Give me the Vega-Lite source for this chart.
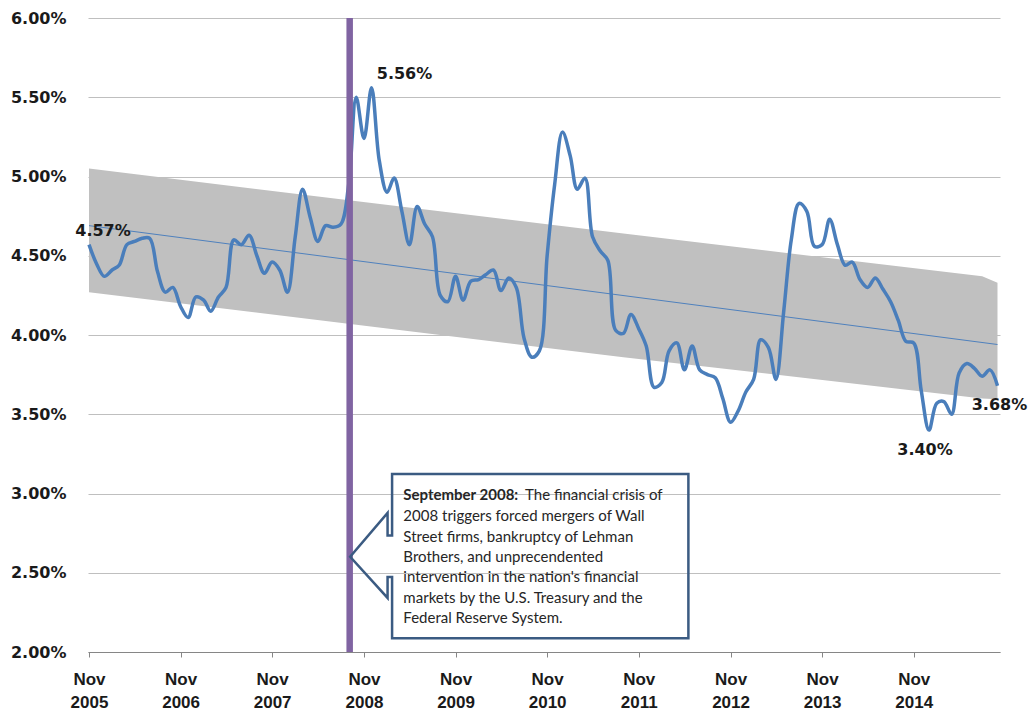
{
  "$schema": "https://vega.github.io/schema/vega-lite/v6.json",
  "width": 912,
  "height": 634,
  "autosize": {"type": "none"},
  "padding": {"left": 88, "top": 18, "right": 29, "bottom": 67},
  "background": "white",
  "config": {"view": {"stroke": null}},
  "datasets": {
    "series": [
      {"date": "2005-11-01", "value": 4.57, "label": "4.57%"},
      {"date": "2005-12-01", "value": 4.45},
      {"date": "2006-01-01", "value": 4.37},
      {"date": "2006-02-01", "value": 4.41},
      {"date": "2006-03-01", "value": 4.44},
      {"date": "2006-04-01", "value": 4.57},
      {"date": "2006-05-01", "value": 4.59},
      {"date": "2006-06-01", "value": 4.61},
      {"date": "2006-07-01", "value": 4.61},
      {"date": "2006-08-01", "value": 4.40},
      {"date": "2006-09-01", "value": 4.27},
      {"date": "2006-10-01", "value": 4.30},
      {"date": "2006-11-01", "value": 4.18},
      {"date": "2006-12-01", "value": 4.11},
      {"date": "2007-01-01", "value": 4.24},
      {"date": "2007-02-01", "value": 4.22},
      {"date": "2007-03-01", "value": 4.15},
      {"date": "2007-04-01", "value": 4.24},
      {"date": "2007-05-01", "value": 4.30},
      {"date": "2007-06-01", "value": 4.60},
      {"date": "2007-07-01", "value": 4.57},
      {"date": "2007-08-01", "value": 4.63},
      {"date": "2007-09-01", "value": 4.50},
      {"date": "2007-10-01", "value": 4.39},
      {"date": "2007-11-01", "value": 4.46},
      {"date": "2007-12-01", "value": 4.41},
      {"date": "2008-01-01", "value": 4.27},
      {"date": "2008-02-01", "value": 4.62},
      {"date": "2008-03-01", "value": 4.92},
      {"date": "2008-04-01", "value": 4.74},
      {"date": "2008-05-01", "value": 4.59},
      {"date": "2008-06-01", "value": 4.69},
      {"date": "2008-07-01", "value": 4.68},
      {"date": "2008-08-01", "value": 4.70},
      {"date": "2008-09-01", "value": 4.95},
      {"date": "2008-10-01", "value": 5.50},
      {"date": "2008-11-01", "value": 5.24},
      {"date": "2008-12-01", "value": 5.56, "label": "5.56%"},
      {"date": "2009-01-01", "value": 5.10},
      {"date": "2009-02-01", "value": 4.90},
      {"date": "2009-03-01", "value": 4.99},
      {"date": "2009-04-01", "value": 4.78},
      {"date": "2009-05-01", "value": 4.57},
      {"date": "2009-06-01", "value": 4.81},
      {"date": "2009-07-01", "value": 4.70},
      {"date": "2009-08-01", "value": 4.62},
      {"date": "2009-09-01", "value": 4.25},
      {"date": "2009-10-01", "value": 4.21},
      {"date": "2009-11-01", "value": 4.37},
      {"date": "2009-12-01", "value": 4.22},
      {"date": "2010-01-01", "value": 4.34},
      {"date": "2010-02-01", "value": 4.35},
      {"date": "2010-03-01", "value": 4.38},
      {"date": "2010-04-01", "value": 4.41},
      {"date": "2010-05-01", "value": 4.28},
      {"date": "2010-06-01", "value": 4.36},
      {"date": "2010-07-01", "value": 4.30},
      {"date": "2010-08-01", "value": 3.98},
      {"date": "2010-09-01", "value": 3.86},
      {"date": "2010-10-01", "value": 3.90},
      {"date": "2010-11-01", "value": 4.50},
      {"date": "2010-12-01", "value": 4.95},
      {"date": "2011-01-01", "value": 5.28},
      {"date": "2011-02-01", "value": 5.13},
      {"date": "2011-03-01", "value": 4.92},
      {"date": "2011-04-01", "value": 4.99},
      {"date": "2011-05-01", "value": 4.62},
      {"date": "2011-06-01", "value": 4.53},
      {"date": "2011-07-01", "value": 4.47},
      {"date": "2011-08-01", "value": 4.03},
      {"date": "2011-09-01", "value": 4.01},
      {"date": "2011-10-01", "value": 4.13},
      {"date": "2011-11-01", "value": 4.04},
      {"date": "2011-12-01", "value": 3.93},
      {"date": "2012-01-01", "value": 3.67},
      {"date": "2012-02-01", "value": 3.70},
      {"date": "2012-03-01", "value": 3.90},
      {"date": "2012-04-01", "value": 3.95},
      {"date": "2012-05-01", "value": 3.78},
      {"date": "2012-06-01", "value": 3.93},
      {"date": "2012-07-01", "value": 3.78},
      {"date": "2012-08-01", "value": 3.75},
      {"date": "2012-09-01", "value": 3.73},
      {"date": "2012-10-01", "value": 3.60},
      {"date": "2012-11-01", "value": 3.45},
      {"date": "2012-12-01", "value": 3.52},
      {"date": "2013-01-01", "value": 3.64},
      {"date": "2013-02-01", "value": 3.72},
      {"date": "2013-03-01", "value": 3.97},
      {"date": "2013-04-01", "value": 3.92},
      {"date": "2013-05-01", "value": 3.72},
      {"date": "2013-06-01", "value": 4.15},
      {"date": "2013-07-01", "value": 4.60},
      {"date": "2013-08-01", "value": 4.83},
      {"date": "2013-09-01", "value": 4.78},
      {"date": "2013-10-01", "value": 4.56},
      {"date": "2013-11-01", "value": 4.57},
      {"date": "2013-12-01", "value": 4.73},
      {"date": "2014-01-01", "value": 4.57},
      {"date": "2014-02-01", "value": 4.44},
      {"date": "2014-03-01", "value": 4.46},
      {"date": "2014-04-01", "value": 4.35},
      {"date": "2014-05-01", "value": 4.30},
      {"date": "2014-06-01", "value": 4.36},
      {"date": "2014-07-01", "value": 4.29},
      {"date": "2014-08-01", "value": 4.21},
      {"date": "2014-09-01", "value": 4.09},
      {"date": "2014-10-01", "value": 3.96},
      {"date": "2014-11-01", "value": 3.95},
      {"date": "2014-12-01", "value": 3.65},
      {"date": "2015-01-01", "value": 3.40, "label": "3.40%"},
      {"date": "2015-02-01", "value": 3.57},
      {"date": "2015-03-01", "value": 3.58},
      {"date": "2015-04-01", "value": 3.50},
      {"date": "2015-05-01", "value": 3.76},
      {"date": "2015-06-01", "value": 3.82},
      {"date": "2015-07-01", "value": 3.79},
      {"date": "2015-08-01", "value": 3.74},
      {"date": "2015-09-01", "value": 3.78},
      {"date": "2015-10-01", "value": 3.68, "label": "3.68%"}
    ],
    "band": [
      {"date": "2005-11-01", "value": 5.05, "lo": 4.27},
      {"date": "2011-09-01", "value": 4.64, "lo": 3.86},
      {"date": "2015-08-01", "value": 4.37, "lo": 3.60},
      {"date": "2015-10-01", "value": 4.33, "lo": 3.595}
    ],
    "trend": [
      {"date": "2005-11-01", "value": 4.69},
      {"date": "2015-10-01", "value": 3.94}
    ],
    "event": [
      {"date": "2008-09-05", "value": 6, "lo": 2}
    ],
    "callout": [
      {"i": 1, "date": "2009-02-21", "value": 3.123},
      {"i": 2, "date": "2012-05-17", "value": 3.123},
      {"i": 3, "date": "2012-05-17", "value": 2.086},
      {"i": 4, "date": "2009-02-21", "value": 2.086},
      {"i": 5, "date": "2009-02-21", "value": 2.473},
      {"i": 6, "date": "2009-02-03", "value": 2.473},
      {"i": 7, "date": "2009-02-03", "value": 2.341},
      {"i": 8, "date": "2008-09-07", "value": 2.601},
      {"i": 9, "date": "2009-02-03", "value": 2.877},
      {"i": 10, "date": "2009-02-03", "value": 2.735},
      {"i": 11, "date": "2009-02-21", "value": 2.735}
    ],
    "noteHead": [
      {"date": "2009-04-07", "value": 2.991, "text": "September 2008:"}
    ],
    "noteBody": [
      {"date": "2010-08-05", "value": 2.991, "text": "The financial crisis of"},
      {"date": "2009-04-07", "value": 2.858, "text": "2008  triggers forced mergers of Wall"},
      {"date": "2009-04-07", "value": 2.727, "text": "Street firms, bankruptcy of Lehman"},
      {"date": "2009-04-07", "value": 2.601, "text": "Brothers, and unprecendented"},
      {"date": "2009-04-07", "value": 2.471, "text": "intervention in the nation's financial"},
      {"date": "2009-04-07", "value": 2.343, "text": "markets by the U.S. Treasury and the"},
      {"date": "2009-04-07", "value": 2.216, "text": "Federal Reserve System."}
    ]
  },
  "encoding": {
    "x": {
      "field": "date",
      "type": "temporal",
      "scale": {
        "type": "utc",
        "nice": false,
        "domain": [
          {"year": 2005, "month": 10, "date": 28, "utc": true},
          {"year": 2015, "month": 10, "date": 11, "utc": true}
        ]
      },
      "axis": {
        "title": null,
        "grid": false,
        "values": [
          {"year": 2005, "month": 11, "date": 1, "utc": true},
          {"year": 2006, "month": 11, "date": 1, "utc": true},
          {"year": 2007, "month": 11, "date": 1, "utc": true},
          {"year": 2008, "month": 11, "date": 1, "utc": true},
          {"year": 2009, "month": 11, "date": 1, "utc": true},
          {"year": 2010, "month": 11, "date": 1, "utc": true},
          {"year": 2011, "month": 11, "date": 1, "utc": true},
          {"year": 2012, "month": 11, "date": 1, "utc": true},
          {"year": 2013, "month": 11, "date": 1, "utc": true},
          {"year": 2014, "month": 11, "date": 1, "utc": true}
        ],
        "labelExpr": "['Nov', utcFormat(datum.value, '%Y')]",
        "domainColor": "#868686",
        "tickColor": "#868686",
        "tickSize": 5,
        "labelFont": "Liberation Sans",
        "labelFontWeight": "bold",
        "labelFontSize": 17,
        "labelColor": "#1a1a1a",
        "labelPadding": 14,
        "labelBaseline": "top",
        "labelLineHeight": 23,
        "labelAlign": "center",
        "labelOverlap": false,
        "labelFlush": false
      }
    },
    "y": {
      "field": "value",
      "type": "quantitative",
      "scale": {"domain": [2, 6], "nice": false, "zero": false},
      "axis": {
        "title": null,
        "values": [2, 2.5, 3, 3.5, 4, 4.5, 5, 5.5, 6],
        "labelExpr": "format(datum.value, '.2f') + '%'",
        "domain": false,
        "ticks": false,
        "tickSize": 0,
        "labelPadding": 22,
        "grid": true,
        "gridColor": "#bfbfbf",
        "gridWidth": 1,
        "labelFont": "DejaVu Sans",
        "labelFontWeight": "bold",
        "labelFontSize": 16,
        "labelColor": "#1a1a1a"
      }
    }
  },
  "layer": [
    {
      "data": {"name": "band"},
      "mark": {"type": "area", "color": "#c0c0c0", "opacity": 1},
      "encoding": {
        "y2": {"field": "lo"}
      }
    },
    {
      "data": {"name": "trend"},
      "mark": {"type": "line", "color": "#4f81bd", "strokeWidth": 1},
      "encoding": {}
    },
    {
      "data": {"name": "series"},
      "mark": {"type": "line", "color": "#4a7ebb", "strokeWidth": 3.5, "interpolate": "catmull-rom"},
      "encoding": {}
    },
    {
      "data": {"name": "event"},
      "mark": {"type": "rule", "color": "#8064a2", "strokeWidth": 6.5},
      "encoding": {
        "y2": {"field": "lo"}
      }
    },
    {
      "data": {"name": "callout"},
      "mark": {"type": "line", "color": "#3b5b82", "strokeWidth": 2.5, "interpolate": "linear-closed"},
      "encoding": {
        "order": {"field": "i", "type": "quantitative"}
      }
    },
    {
      "data": {"name": "noteHead"},
      "mark": {"type": "text", "align": "left", "baseline": "middle", "font": "Lato", "fontSize": 15, "fontWeight": "bold", "color": "#262626"},
      "encoding": {
        "text": {"field": "text"}
      }
    },
    {
      "data": {"name": "noteBody"},
      "mark": {"type": "text", "align": "left", "baseline": "middle", "font": "Lato", "fontSize": 15, "color": "#262626"},
      "encoding": {
        "text": {"field": "text"}
      }
    },
    {
      "data": {"name": "series"},
      "transform": [{"filter": "datum.label == '4.57%'"}],
      "mark": {"type": "text", "align": "center", "baseline": "middle", "dx": 14, "dy": -14, "font": "DejaVu Sans", "fontSize": 16, "fontWeight": "bold", "color": "#1a1a1a"},
      "encoding": {
        "text": {"field": "label"}
      }
    },
    {
      "data": {"name": "series"},
      "transform": [{"filter": "datum.label == '5.56%'"}],
      "mark": {"type": "text", "align": "center", "baseline": "middle", "dx": 33, "dy": -14, "font": "DejaVu Sans", "fontSize": 16, "fontWeight": "bold", "color": "#1a1a1a"},
      "encoding": {
        "text": {"field": "label"}
      }
    },
    {
      "data": {"name": "series"},
      "transform": [{"filter": "datum.label == '3.40%'"}],
      "mark": {"type": "text", "align": "center", "baseline": "middle", "dx": -4, "dy": 20, "font": "DejaVu Sans", "fontSize": 16, "fontWeight": "bold", "color": "#1a1a1a"},
      "encoding": {
        "text": {"field": "label"}
      }
    },
    {
      "data": {"name": "series"},
      "transform": [{"filter": "datum.label == '3.68%'"}],
      "mark": {"type": "text", "align": "center", "baseline": "middle", "dx": 2, "dy": 19, "font": "DejaVu Sans", "fontSize": 16, "fontWeight": "bold", "color": "#1a1a1a"},
      "encoding": {
        "text": {"field": "label"}
      }
    }
  ]
}
